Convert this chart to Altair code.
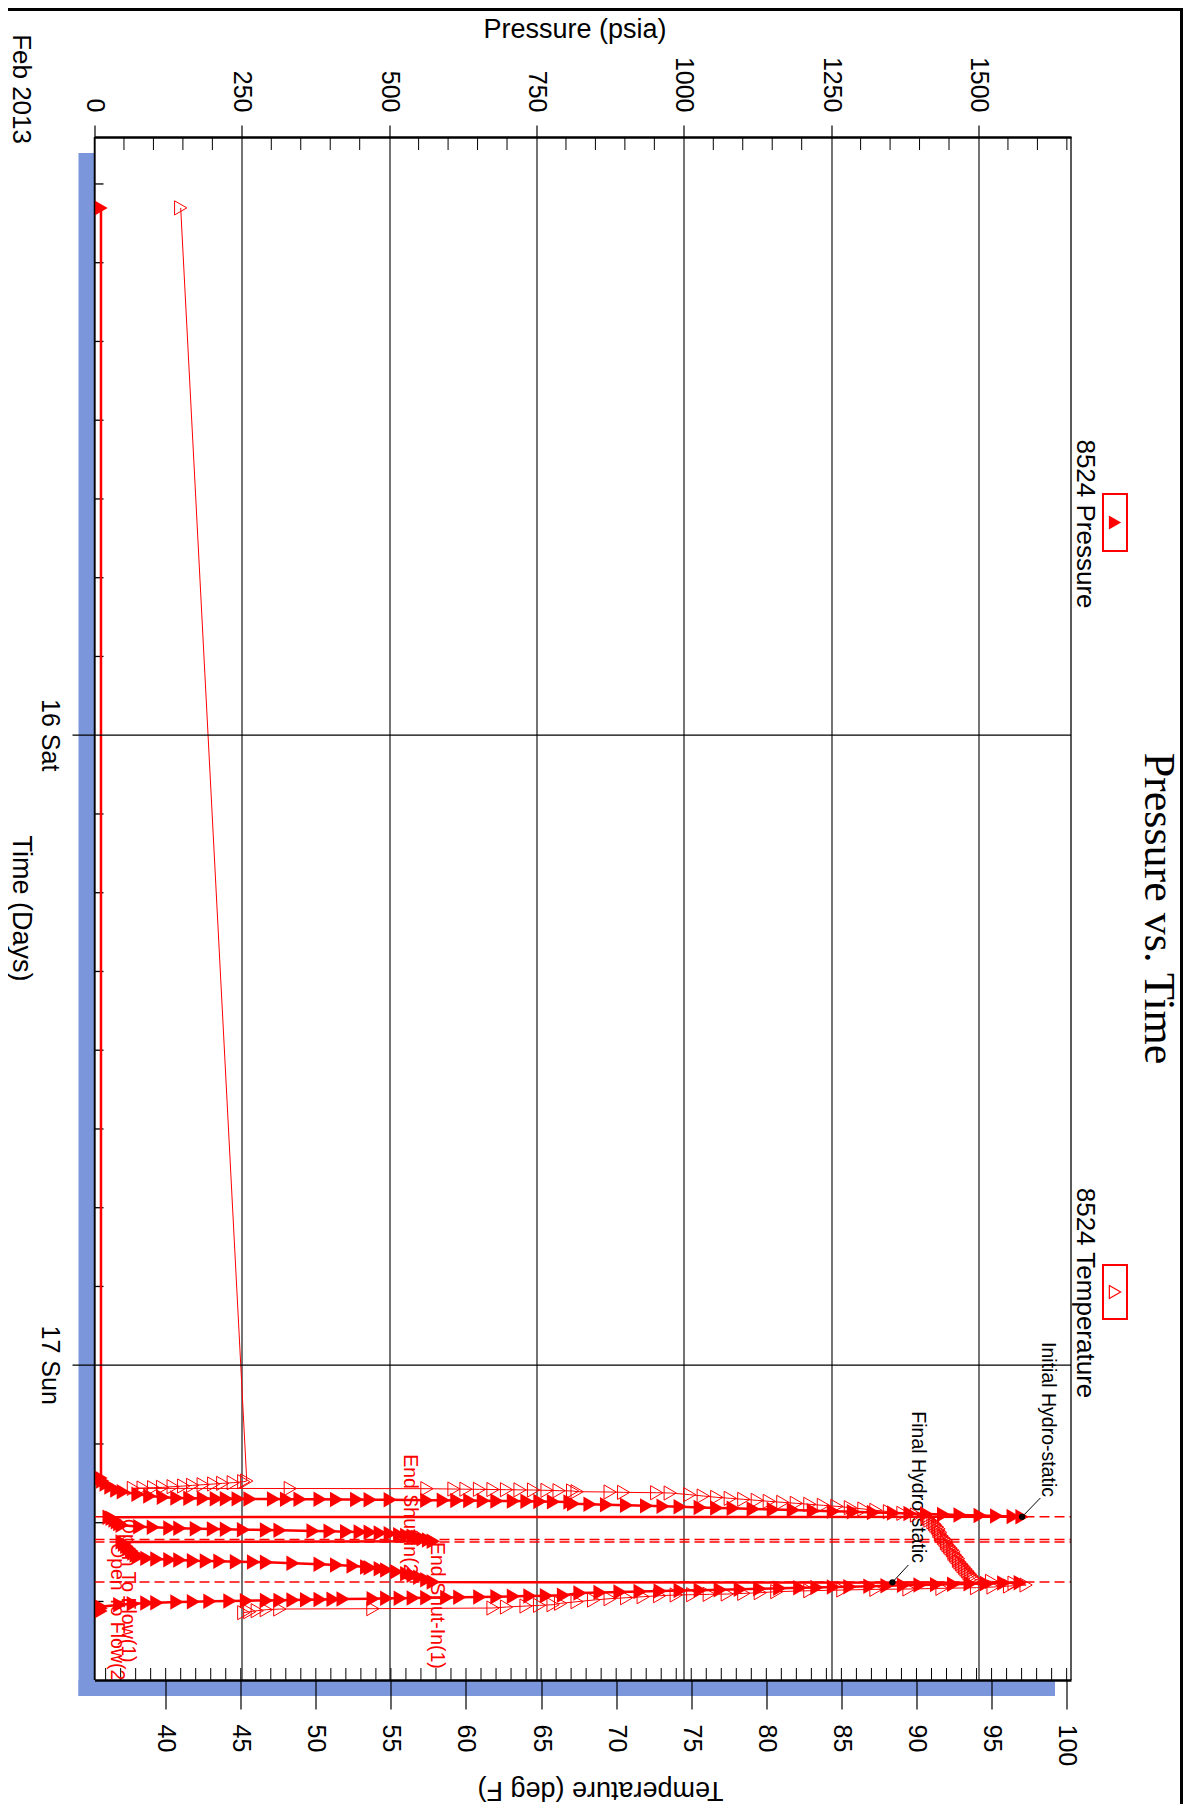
import altair as alt
import pandas as pd
from datetime import datetime, timedelta

BASE = datetime(2013, 2, 17)  # times below are minutes from 2013-02-17 00:00

# ---------------- 8524 Pressure (psia) ----------------
p_min = [
    # at surface
    -2645.3, 257.8, 264.7, 271.5, 278.4, 285.3,
    # running in hole
    289.1, 295.2, 299.0, 302.0, 303.5, 304.3, 304.7, 305.1, 305.3, 305.5,
    305.7, 305.9, 306.1, 306.3, 306.5, 306.8, 307.1, 307.4, 307.7, 308.4,
    308.8, 309.1, 309.5, 309.8, 310.2, 310.6, 311.2, 311.7, 312.2, 312.9,
    316.6, 317.7, 318.9, 320.2, 321.5, 322.6, 323.7, 325.0, 326.1, 327.2,
    328.5, 329.9, 331.2, 332.5, 333.9, 335.2, 336.5, 337.8, 338.9, 340.0,
    341.1, 342.3, 343.5, 344.7, 345.8,
    # initial hydrostatic
    346.6,
    # flow 1
    347.3, 350.0, 354.0, 358.0, 362.0, 366.0,
    # shut-in 1
    369.1, 370.6, 372.1, 372.9, 373.6, 374.4, 375.2, 375.9, 376.7, 377.4,
    379.0, 379.7, 380.5, 381.3, 382.0, 383.5, 385.1, 387.4, 389.2, 391.2,
    393.5, 396.5, 399.5, 402.6,
    # flow 2
    404.0, 409.0, 414.0, 419.0, 424.0, 429.0, 434.0, 438.0,
    # shut-in 2
    441.5, 443.0, 444.5, 445.3, 446.8, 447.5, 448.3, 449.1, 449.8, 450.6,
    452.9, 455.2, 456.7, 459.0, 461.3, 462.8, 465.1, 468.1, 471.9, 476.5,
    480.3, 484.9, 490.2, 495.6,
    # final hydrostatic and pulling out
    497.1, 498.0, 498.8, 499.7, 500.6, 501.5, 502.4, 503.2, 504.1, 505.0,
    506.1, 507.0, 507.8, 508.7, 509.8, 510.9, 511.9, 513.0, 514.1, 515.1,
    516.1, 517.2, 518.3, 519.3, 520.4,
    526.0, 526.8, 527.5, 528.3, 529.1, 529.8, 530.6, 531.0, 531.4, 532.1,
    532.5, 532.9, 533.6, 534.4, 535.2, 535.6, 535.9, 536.7, 537.5, 537.8,
    538.2, 539.0, 539.7, 540.5, 541.3, 542.8, 543.5, 545.1, 547.4, 551.9,
    556.0, 562.0,
]
p_val = [
    11, 11, 14, 20, 28, 38,
    49, 74, 94, 117, 140, 162, 185, 207, 224, 244,
    264, 304, 326, 349, 383, 411, 445, 468, 502, 564,
    592, 615, 637, 660, 683, 711, 734, 756, 779, 807,
    813, 841, 869, 903, 937, 965, 994, 1028, 1056, 1084,
    1118, 1152, 1186, 1220, 1254, 1288, 1322, 1356, 1384, 1412,
    1441, 1469, 1503, 1531, 1559,
    1574,
    25, 30, 35, 39, 43, 47,
    77, 100, 128, 145, 173, 202, 224, 253, 292, 315,
    371, 400, 428, 451, 468, 485, 502, 518, 530, 541,
    549, 558, 567, 575,
    47, 51, 55, 59, 63, 67, 71, 75,
    89, 106, 128, 145, 168, 190, 213, 241, 270, 292,
    337, 383, 411, 439, 462, 468, 485, 496, 513, 530,
    541, 552, 564, 575,
    1571, 1543, 1514, 1486, 1458, 1429, 1401, 1373, 1345, 1316,
    1282, 1254, 1226, 1197, 1163, 1129, 1096, 1062, 1028, 994,
    960, 926, 892, 858, 824,
    796, 767, 739, 711, 683, 654, 620, 598, 564, 541,
    519, 496, 473, 422, 405, 383, 360, 337, 315, 292,
    258, 230, 196, 168, 140, 106, 89, 66, 43, 11,
    11, 11,
]

# ---------------- 8524 Temperature (deg F) ----------------
t_min = [
    -2645.3, 264.7,
    266.2, 268.5, 270.0, 271.5, 273.1, 274.6, 276.1, 277.6, 279.2, 279.9, 280.7, 281.5,
    281.8, 282.2, 283.0, 283.4, 283.7, 284.1, 284.5, 284.9, 285.3, 286.0, 286.8, 287.5,
    289.1, 289.8, 290.6, 291.4, 292.1, 295.9, 299.0, 302.0, 304.3, 306.6,
    308.9, 311.2, 313.5, 315.7, 318.0, 320.3, 322.6, 325.6, 328.7, 331.7,
    334.8, 338.6, 342.4, 346.2,
    # on bottom during the test
    350, 354, 358, 362, 366, 370, 374, 378, 382, 386, 390, 394,
    398, 402, 406, 410, 414, 418, 422, 426, 430, 434, 438, 442,
    446, 450, 454, 458, 462, 466, 470, 474, 478, 482, 486, 490,
    494, 498,
    # pulling out
    502.4, 504.7, 507.0, 508.5, 510.0, 511.5, 512.3, 513.8, 515.4, 517.6,
    519.9, 521.5, 523.0, 523.7, 524.5, 525.3, 526.8, 529.1, 531.4, 533.6,
    536.7, 540.5, 544.3,
    547.4, 548.9, 550.4, 552.7, 555.0, 556.5, 557.3, 558.8, 561.1, 563.4, 565.6,
]
t_val = [
    41.0, 45.4,
    45.2, 44.5, 43.8, 43.2, 42.5, 41.8, 41.2, 40.5, 39.8, 39.2, 38.5, 37.85,
    48.3, 57.4, 59.2, 60.0, 60.9, 61.8, 62.7, 63.6, 64.5, 65.4, 66.2, 67.1,
    67.4, 69.6, 70.5, 72.7, 73.6, 74.9, 75.8, 76.7, 77.6, 78.5,
    79.4, 80.2, 81.1, 82.0, 82.9, 83.8, 84.7, 85.6, 86.5, 87.3,
    88.2, 89.1, 90.0, 90.7,
    90.8, 90.9, 91.1, 91.2, 91.3, 91.4, 91.5, 91.5, 91.6, 91.6, 91.7, 91.8,
    91.9, 92.0, 92.0, 92.1, 92.2, 92.3, 92.4, 92.5, 92.5, 92.6, 92.7, 92.8,
    92.8, 92.9, 93.0, 93.1, 93.2, 93.3, 93.4, 93.5, 93.6, 93.7, 93.8, 93.9,
    95.0, 96.5,
    97.3, 96.2, 95.1, 94.0, 91.7, 89.5, 87.3, 85.1, 82.9, 80.7,
    79.6, 78.5, 77.4, 76.2, 75.1, 74.0, 72.9, 71.8, 70.7, 69.6,
    68.5, 67.4, 66.3,
    65.8, 64.9, 64.0, 62.7, 61.8, 53.8, 47.6, 46.7, 46.1, 45.6, 45.2,
]

# ---------------- events and annotations ----------------
event_min = [346.2, 398.4, 404.1, 495.5]

red_left_text = ["End Shut-In(1)", "Open To Flow(1)", "Open To Flow(2)"]
red_left_min = [404.1, 351.1, 406.3]
red_left_p = [581, 57, 38]
red_right_text = ["End Shut-In(2)"]
red_right_min = [493.3]
red_right_p = [535]

hydro_text = ["Initial Hydro-static", "Final Hydro-static"]
hydro_text_min = [301.3, 452.1]
hydro_text_p = [1618, 1398]
hydro_dot_min = [346.6, 496.2]
hydro_dot_p = [1574, 1354]
leader_start_min = [303.5, 456.7]
leader_start_p = [1605, 1381]

# ---------------- axes ----------------
p_ticks = [0, 250, 500, 750, 1000, 1250, 1500]
p_minor_ticks = [v for v in range(50, 1651, 50) if v % 250 != 0]
t_ticks = [40, 45, 50, 55, 60, 65, 70, 75, 80, 85, 90, 95, 100]
t_minor_ticks = list(range(36, 101))
day_min = [-1440, 0]
day_labels = ["16 Sat", "17 Sun"]
time_minor_hours = [-45, -42, -39, -36, -33, -30, -27, -21, -18, -15, -12, -9, -6, -3, 3, 6, 9]


def stamp(m):
    return (BASE + timedelta(minutes=m)).strftime("%Y-%m-%dT%H:%M:%S")


W, H = 976.5, 1543
RED = "#ff0000"
SHADOW = "#7b96db"
SANS = "Liberation Sans"
SERIF = "Liberation Serif"

p_scale = alt.Scale(domain=[0, 1657], nice=False, zero=False)
t_scale = alt.Scale(domain=[35.26, 100.29], nice=False, zero=False)
y_scale = alt.Scale(
    domain=[
        alt.DateTime(year=2013, month=2, date=15, hours=1, minutes=12, seconds=40),
        alt.DateTime(year=2013, month=2, date=17, hours=11, minutes=59, seconds=30),
    ],
    reverse=True,
)

pres = pd.DataFrame({"t": [stamp(m) for m in p_min], "p": p_val, "i": list(range(len(p_min)))})
temp = pd.DataFrame({"t": [stamp(m) for m in t_min], "temp": t_val, "i": list(range(len(t_min)))})
days = pd.DataFrame({"t": [stamp(m) for m in day_min], "label": day_labels})
one = pd.DataFrame({"k": [0]})

common_label = dict(labelFont=SANS, labelColor="black", titleFont=SANS, titleColor="black",
                    titleFontWeight="normal", tickColor="black", domainColor="black")

p_axis = alt.Axis(
    orient="top", values=p_ticks, format="d", labelAngle=90, labelAlign="right", labelBaseline="middle",
    labelPadding=13, labelFontSize=25, labelFlush=False, labelOverlap=False,
    tickSize=12, tickWidth=1.2, domainWidth=2.5,
    grid=True, gridColor="black", gridWidth=1.1, gridOpacity=1,
    title="Pressure (psia)", titleAngle=0, titleX=480, titleY=-108, titleAlign="center",
    titleBaseline="middle", titleFontSize=27, **common_label,
)
t_axis = alt.Axis(
    orient="bottom", values=t_ticks, format="d", labelAngle=90, labelAlign="left", labelBaseline="middle",
    labelPadding=15, labelFontSize=25, labelFlush=False, labelOverlap=False,
    tickSize=29, tickWidth=1.2, domainWidth=2.5, grid=False,
    title="Temperature (deg F)", titleAngle=180, titleX=505.5, titleY=109, titleAlign="center",
    titleBaseline="middle", titleFontSize=27, zindex=1, **common_label,
)

shadow_left = alt.Chart(one).mark_rect(color=SHADOW).encode(
    x=alt.value(-16), x2=alt.value(0), y=alt.value(16), y2=alt.value(H + 16))
shadow_bottom = alt.Chart(one).mark_rect(color=SHADOW).encode(
    x=alt.value(-16), x2=alt.value(W - 16), y=alt.value(H), y2=alt.value(H + 16))

# time axis (left): day grid lines with outward ticks, labels, minor ticks, domain, title
day_grid = alt.Chart(days).mark_rule(color="black", strokeWidth=1.3).encode(
    y=alt.Y("t:T", scale=y_scale, axis=None), x=alt.value(-22), x2=alt.value(W))
day_text = alt.Chart(days).mark_text(angle=90, align="center", baseline="middle", font=SANS,
                                     fontSize=25, color="black").encode(
    y=alt.Y("t:T", scale=y_scale, axis=None), x=alt.value(-45), text="label:N")
time_minor = alt.Chart(pd.DataFrame({"t": [stamp(h * 60) for h in time_minor_hours]})).mark_rule(
    color="black", strokeWidth=1.3).encode(
    y=alt.Y("t:T", scale=y_scale, axis=None), x=alt.value(0), x2=alt.value(9))
left_domain = alt.Chart(one).mark_rule(color="black", strokeWidth=1.5).encode(
    x=alt.value(0), y=alt.value(0), y2=alt.value(H))
time_title = alt.Chart(one).mark_text(text="Time (Days)", angle=90, align="center", baseline="middle",
                                      font=SANS, fontSize=27, color="black").encode(
    x=alt.value(-73.5), y=alt.value(H / 2))

p_minor = alt.Chart(pd.DataFrame({"v": p_minor_ticks})).mark_rule(color="black", strokeWidth=1).encode(
    x=alt.X("v:Q", scale=p_scale, axis=None), y=alt.value(0), y2=alt.value(13))
t_minor = alt.Chart(pd.DataFrame({"v": t_minor_ticks})).mark_rule(color="black", strokeWidth=1).encode(
    x=alt.X("v:Q", scale=t_scale, axis=None), y=alt.value(H - 12), y2=alt.value(H))

events = alt.Chart(pd.DataFrame({"t": [stamp(m) for m in event_min]})).mark_rule(
    color=RED, strokeDash=[10, 5], strokeWidth=1.5).encode(
    y=alt.Y("t:T", scale=y_scale, axis=None), x=alt.value(0), x2=alt.value(W))

red_left = alt.Chart(pd.DataFrame({"t": [stamp(m) for m in red_left_min], "p": red_left_p,
                                   "label": red_left_text})).mark_text(
    angle=90, align="left", baseline="middle", font=SANS, fontSize=19.5, color=RED, clip=True).encode(
    x=alt.X("p:Q", scale=p_scale, axis=None), y=alt.Y("t:T", scale=y_scale, axis=None), text="label:N")
red_right = alt.Chart(pd.DataFrame({"t": [stamp(m) for m in red_right_min], "p": red_right_p,
                                    "label": red_right_text})).mark_text(
    angle=90, align="right", baseline="middle", font=SANS, fontSize=19.5, color=RED, clip=True).encode(
    x=alt.X("p:Q", scale=p_scale, axis=None), y=alt.Y("t:T", scale=y_scale, axis=None), text="label:N")

hydro_labels = alt.Chart(pd.DataFrame({"t": [stamp(m) for m in hydro_text_min], "p": hydro_text_p,
                                       "label": hydro_text})).mark_text(
    angle=90, align="right", baseline="middle", font=SANS, fontSize=19.5, color="black").encode(
    x=alt.X("p:Q", scale=p_scale, axis=None), y=alt.Y("t:T", scale=y_scale, axis=None), text="label:N")
leaders = alt.Chart(pd.DataFrame({
    "t1": [stamp(m) for m in leader_start_min], "p1": leader_start_p,
    "t2": [stamp(m) for m in hydro_dot_min], "p2": hydro_dot_p})).mark_rule(color="black", strokeWidth=1).encode(
    x=alt.X("p1:Q", scale=p_scale, axis=None), x2="p2:Q",
    y=alt.Y("t1:T", scale=y_scale, axis=None), y2="t2:T")

temp_line = alt.Chart(temp).mark_line(color=RED, strokeWidth=1).encode(
    x=alt.X("temp:Q", scale=t_scale, axis=t_axis), y=alt.Y("t:T", scale=y_scale, axis=None), order="i:Q")
temp_pts = alt.Chart(temp).mark_point(shape="triangle-right", filled=False, size=200, color=RED,
                                      strokeWidth=1, opacity=1).encode(
    x=alt.X("temp:Q", scale=t_scale, axis=None), y=alt.Y("t:T", scale=y_scale, axis=None))

pres_line = alt.Chart(pres).mark_line(color=RED, strokeWidth=2.5).encode(
    x=alt.X("p:Q", scale=p_scale, axis=p_axis), y=alt.Y("t:T", scale=y_scale, axis=None), order="i:Q")
pres_pts = alt.Chart(pres).mark_point(shape="triangle-right", filled=True, size=240, color=RED,
                                      opacity=1).encode(
    x=alt.X("p:Q", scale=p_scale, axis=None), y=alt.Y("t:T", scale=y_scale, axis=None))

dots = alt.Chart(pd.DataFrame({"t": [stamp(m) for m in hydro_dot_min], "p": hydro_dot_p})).mark_circle(
    color="black", size=40, opacity=1).encode(
    x=alt.X("p:Q", scale=p_scale, axis=None), y=alt.Y("t:T", scale=y_scale, axis=None))

right_border = alt.Chart(one).mark_rule(color="black", strokeWidth=1.3).encode(
    x=alt.value(W), y=alt.value(0), y2=alt.value(H))
frame_top = alt.Chart(one).mark_rule(color="black", strokeWidth=3).encode(
    x=alt.value(-86.5), x2=alt.value(1088.5), y=alt.value(-127.5))
frame_right = alt.Chart(one).mark_rule(color="black", strokeWidth=3).encode(
    x=alt.value(1087), y=alt.value(-129), y2=alt.value(H + 124))

leg_text_p = alt.Chart(one).mark_text(text="8524 Pressure", angle=90, align="center", baseline="middle",
                                      font=SANS, fontSize=26, color="black").encode(
    x=alt.value(990.5), y=alt.value(387))
leg_text_t = alt.Chart(one).mark_text(text="8524 Temperature", angle=90, align="center", baseline="middle",
                                      font=SANS, fontSize=26, color="black").encode(
    x=alt.value(990.5), y=alt.value(1156))
leg_box_p = alt.Chart(one).mark_rect(fillOpacity=0, stroke=RED, strokeWidth=2).encode(
    x=alt.value(1008.5), x2=alt.value(1032.5), y=alt.value(357), y2=alt.value(414))
leg_box_t = alt.Chart(one).mark_rect(fillOpacity=0, stroke=RED, strokeWidth=2).encode(
    x=alt.value(1008.5), x2=alt.value(1032.5), y=alt.value(1128), y2=alt.value(1182))
leg_sym_p = alt.Chart(one).mark_point(shape="triangle-right", filled=True, size=200, color=RED, opacity=1).encode(
    x=alt.value(1020.5), y=alt.value(385.5))
leg_sym_t = alt.Chart(one).mark_point(shape="triangle-right", filled=False, size=170, color=RED,
                                      strokeWidth=1.2, opacity=1).encode(
    x=alt.value(1020.5), y=alt.value(1155))

title = alt.Chart(one).mark_text(text="Pressure vs. Time", angle=90, align="center", baseline="middle",
                                 font=SERIF, fontSize=44, color="black").encode(
    x=alt.value(1063), y=alt.value(H / 2))
month = alt.Chart(one).mark_text(text="Feb 2013", angle=90, align="right", baseline="middle",
                                 font=SANS, fontSize=26, color="black").encode(
    x=alt.value(-73.5), y=alt.value(7))

chart = alt.layer(
    shadow_left, shadow_bottom, p_minor, t_minor, time_minor, events,
    red_left, red_right, hydro_labels, leaders,
    temp_line, temp_pts, pres_line, pres_pts, dots,
    day_grid, day_text, left_domain, time_title,
    right_border, frame_top, frame_right,
    leg_text_p, leg_text_t, leg_box_p, leg_box_t, leg_sym_p, leg_sym_t,
    title, month,
).resolve_scale(x="independent").properties(
    width=W, height=H,
    autosize=alt.AutoSizeParams(type="none"),
    padding={"left": 86.5, "top": 129, "right": 113, "bottom": 124},
).configure_view(strokeWidth=0)

chart.save("out.html", embed_options={"renderer": "svg", "actions": False})
